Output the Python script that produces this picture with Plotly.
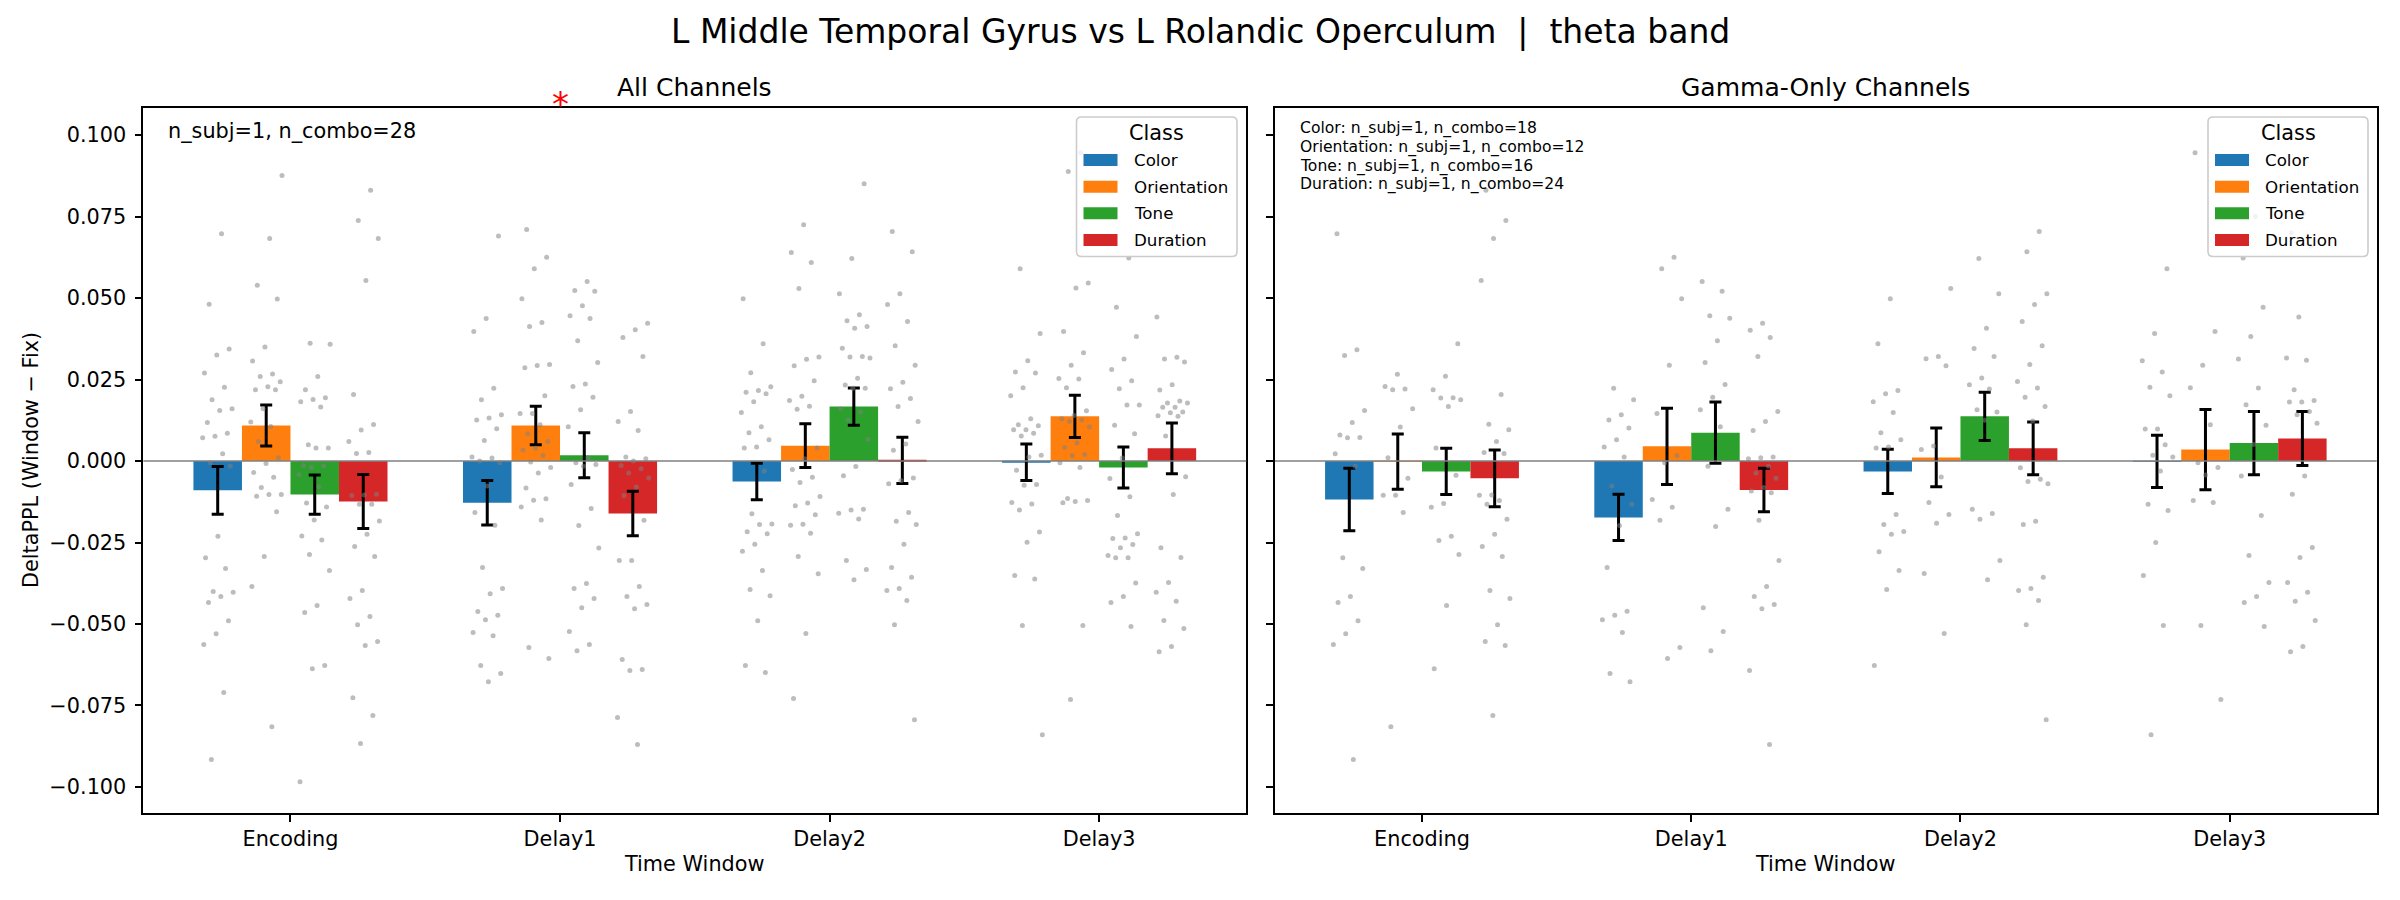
import plotly.graph_objects as go

# ---------------- data ----------------
windows = ["Encoding", "Delay1", "Delay2", "Delay3"]
classes = ["Color", "Orientation", "Tone", "Duration"]
ytick_vals = [-0.100, -0.075, -0.050, -0.025, 0.000, 0.025, 0.050, 0.075, 0.100]

n_subj = 1
n_combo_all = 28
n_combo_gamma = [18, 12, 16, 24]

# All channels: bar means and SEMs per class (Encoding, Delay1, Delay2, Delay3)
all_mean_color = [-0.0090, -0.0128, -0.0063, -0.0004]
all_mean_orient = [0.0109, 0.0109, 0.0047, 0.0137]
all_mean_tone = [-0.0103, 0.0018, 0.0167, -0.0020]
all_mean_dur = [-0.0124, -0.0161, 0.0002, 0.0039]
all_sem_color = [0.0073, 0.0068, 0.0056, 0.0056]
all_sem_orient = [0.0063, 0.0059, 0.0067, 0.0065]
all_sem_tone = [0.0060, 0.0069, 0.0057, 0.0063]
all_sem_dur = [0.0083, 0.0068, 0.0071, 0.0078]

# Gamma-only channels
gam_mean_color = [-0.0118, -0.0173, -0.0032, -0.0001]
gam_mean_orient = [-0.0002, 0.0045, 0.0011, 0.0035]
gam_mean_tone = [-0.0032, 0.0087, 0.0137, 0.0055]
gam_mean_dur = [-0.0053, -0.0089, 0.0039, 0.0069]
gam_sem_color = [0.0096, 0.0071, 0.0068, 0.0080]
gam_sem_orient = [0.0085, 0.0117, 0.0090, 0.0123]
gam_sem_tone = [0.0071, 0.0094, 0.0074, 0.0097]
gam_sem_dur = [0.0087, 0.0067, 0.0081, 0.0083]

# individual combos (grey dots), per window
pts_all_color = [
    [0.0697, 0.0481, 0.0344, 0.0325, 0.0270, 0.0226, 0.0188, 0.0160, 0.0155, 0.0118, 0.0085, 0.0076, 0.0071, 0.0022,
     -0.0005, -0.0015, -0.0231, -0.0297, -0.0330, -0.0400, -0.0403, -0.0416, -0.0434, -0.0490, -0.0530, -0.0563, -0.0710, -0.0916],
    [0.0690, 0.0437, 0.0397, 0.0223, 0.0188, 0.0142, 0.0132, 0.0126, 0.0099, 0.0063, 0.0012, 0.0009, 0.0000, -0.0005,
     -0.0077, -0.0158, -0.0197, -0.0327, -0.0391, -0.0407, -0.0462, -0.0473, -0.0487, -0.0526, -0.0536, -0.0627, -0.0652, -0.0677],
    [0.0498, 0.0360, 0.0271, 0.0228, 0.0216, 0.0211, 0.0206, 0.0182, 0.0149, 0.0105, 0.0087, 0.0065, 0.0043, 0.0040,
     -0.0031, -0.0162, -0.0193, -0.0195, -0.0217, -0.0223, -0.0255, -0.0277, -0.0336, -0.0394, -0.0413, -0.0490, -0.0627, -0.0649],
    [0.0590, 0.0391, 0.0308, 0.0273, 0.0270, 0.0225, 0.0200, 0.0130, 0.0111, 0.0108, 0.0096, 0.0096, 0.0085, 0.0077,
     0.0018, 0.0012, -0.0028, -0.0072, -0.0074, -0.0127, -0.0132, -0.0150, -0.0218, -0.0249, -0.0351, -0.0362, -0.0505, -0.0840],
]
pts_all_orient = [
    [0.0876, 0.0683, 0.0539, 0.0497, 0.0350, 0.0307, 0.0267, 0.0259, 0.0243, 0.0228, 0.0219, 0.0219, 0.0160, 0.0120,
     0.0106, 0.0060, 0.0010, -0.0008, -0.0035, -0.0050, -0.0081, -0.0103, -0.0103, -0.0108, -0.0156, -0.0293, -0.0385, -0.0815],
    [0.0710, 0.0625, 0.0590, 0.0498, 0.0425, 0.0413, 0.0296, 0.0293, 0.0286, 0.0200, 0.0146, 0.0146, 0.0111, 0.0084,
     0.0060, 0.0039, 0.0034, 0.0017, -0.0003, -0.0020, -0.0037, -0.0083, -0.0116, -0.0120, -0.0141, -0.0181, -0.0572, -0.0606],
    [0.0725, 0.0640, 0.0609, 0.0529, 0.0319, 0.0312, 0.0292, 0.0246, 0.0199, 0.0186, 0.0168, 0.0159, 0.0040, 0.0007,
     -0.0026, -0.0050, -0.0066, -0.0109, -0.0129, -0.0137, -0.0165, -0.0194, -0.0197, -0.0222, -0.0293, -0.0346, -0.0529, -0.0729],
    [0.0946, 0.0888, 0.0546, 0.0531, 0.0397, 0.0332, 0.0294, 0.0253, 0.0252, 0.0225, 0.0154, 0.0140, 0.0130, 0.0126,
     0.0121, 0.0104, 0.0055, 0.0042, 0.0020, 0.0017, -0.0005, -0.0020, -0.0115, -0.0121, -0.0124, -0.0128, -0.0505, -0.0732],
]
pts_all_tone = [
    [0.0361, 0.0358, 0.0259, 0.0219, 0.0194, 0.0189, 0.0182, 0.0166, 0.0050, 0.0040, 0.0040, -0.0014, -0.0015, -0.0020,
     -0.0042, -0.0079, -0.0129, -0.0141, -0.0181, -0.0230, -0.0242, -0.0287, -0.0336, -0.0443, -0.0465, -0.0627, -0.0637, -0.0984],
    [0.0551, 0.0523, 0.0521, 0.0476, 0.0446, 0.0437, 0.0369, 0.0302, 0.0236, 0.0229, 0.0196, 0.0157, 0.0105, 0.0009,
     -0.0005, -0.0011, -0.0016, -0.0072, -0.0146, -0.0198, -0.0267, -0.0376, -0.0391, -0.0422, -0.0450, -0.0523, -0.0563, -0.0582],
    [0.0851, 0.0621, 0.0513, 0.0449, 0.0430, 0.0413, 0.0407, 0.0346, 0.0321, 0.0319, 0.0316, 0.0254, 0.0233, 0.0223,
     0.0223, 0.0160, 0.0150, 0.0125, 0.0067, -0.0017, -0.0045, -0.0148, -0.0150, -0.0160, -0.0178, -0.0305, -0.0333, -0.0364],
    [0.0750, 0.0623, 0.0472, 0.0382, 0.0313, 0.0281, 0.0246, 0.0222, 0.0172, 0.0172, 0.0110, 0.0084, 0.0009, -0.0054,
     -0.0110, -0.0167, -0.0223, -0.0236, -0.0238, -0.0256, -0.0266, -0.0290, -0.0297, -0.0297, -0.0374, -0.0416, -0.0434, -0.0508],
]
pts_all_dur = [
    [0.0831, 0.0738, 0.0683, 0.0554, 0.0204, 0.0112, 0.0095, 0.0060, 0.0026, 0.0023, -0.0102, -0.0104, -0.0106, -0.0133,
     -0.0133, -0.0184, -0.0225, -0.0262, -0.0293, -0.0397, -0.0422, -0.0477, -0.0502, -0.0554, -0.0566, -0.0726, -0.0781, -0.0867],
    [0.0423, 0.0403, 0.0379, 0.0321, 0.0152, 0.0121, 0.0094, 0.0012, 0.0007, 0.0000, -0.0014, -0.0024, -0.0037, -0.0052,
     -0.0080, -0.0106, -0.0182, -0.0305, -0.0305, -0.0385, -0.0416, -0.0440, -0.0453, -0.0609, -0.0640, -0.0643, -0.0787, -0.0870],
    [0.0704, 0.0642, 0.0513, 0.0480, 0.0428, 0.0354, 0.0294, 0.0242, 0.0222, 0.0192, 0.0167, 0.0121, 0.0052, 0.0033,
     -0.0052, -0.0060, -0.0070, -0.0158, -0.0185, -0.0195, -0.0255, -0.0327, -0.0357, -0.0391, -0.0397, -0.0428, -0.0502, -0.0794],
    [0.0850, 0.0442, 0.0318, 0.0313, 0.0304, 0.0234, 0.0218, 0.0184, 0.0178, 0.0178, 0.0165, 0.0165, 0.0150, 0.0148,
     0.0139, 0.0137, 0.0077, -0.0048, -0.0103, -0.0266, -0.0296, -0.0373, -0.0403, -0.0430, -0.0489, -0.0514, -0.0569, -0.0585],
]

pts_gam_color = [
    [0.0697, 0.0341, 0.0324, 0.0155, 0.0118, 0.0080, 0.0072, 0.0071, 0.0022, -0.0016, -0.0297, -0.0330, -0.0416, -0.0434,
     -0.0490, -0.0530, -0.0563, -0.0916],
    [0.0223, 0.0188, 0.0142, 0.0126, 0.0101, 0.0065, 0.0043, 0.0012, -0.0077, -0.0133, -0.0198, -0.0327, -0.0461, -0.0473,
     -0.0487, -0.0526, -0.0652, -0.0677],
    [0.0498, 0.0360, 0.0216, 0.0206, 0.0182, 0.0149, 0.0087, 0.0065, 0.0043, 0.0040, -0.0164, -0.0195, -0.0216, -0.0225,
     -0.0278, -0.0336, -0.0394, -0.0627],
    [0.0590, 0.0391, 0.0308, 0.0273, 0.0226, 0.0200, 0.0098, 0.0098, 0.0050, 0.0018, 0.0012, -0.0031, -0.0133, -0.0152,
     -0.0250, -0.0351, -0.0505, -0.0840],
]
pts_gam_orient = [
    [0.0266, 0.0229, 0.0221, 0.0219, 0.0160, 0.0104, 0.0010, -0.0053, -0.0105, -0.0105, -0.0158, -0.0815],
    [0.0625, 0.0590, 0.0498, 0.0294, 0.0146, 0.0017, -0.0005, -0.0118, -0.0142, -0.0182, -0.0572, -0.0606],
    [0.0529, 0.0321, 0.0314, 0.0292, 0.0046, 0.0035, -0.0049, -0.0127, -0.0164, -0.0191, -0.0345, -0.0529],
    [0.0946, 0.0397, 0.0294, 0.0225, 0.0111, -0.0005, -0.0020, -0.0043, -0.0121, -0.0127, -0.0505, -0.0732],
]
pts_gam_tone = [
    [0.0360, 0.0260, 0.0219, 0.0194, 0.0193, 0.0188, 0.0167, 0.0040, -0.0044, -0.0130, -0.0142, -0.0231, -0.0244, -0.0287,
     -0.0443, -0.0637],
    [0.0551, 0.0521, 0.0446, 0.0438, 0.0369, 0.0302, 0.0235, 0.0196, 0.0157, 0.0105, -0.0016, -0.0148, -0.0201, -0.0450,
     -0.0523, -0.0582],
    [0.0621, 0.0513, 0.0407, 0.0345, 0.0321, 0.0255, 0.0234, 0.0221, 0.0157, 0.0150, 0.0125, -0.0148, -0.0161, -0.0179,
     -0.0305, -0.0364],
    [0.0750, 0.0623, 0.0472, 0.0382, 0.0313, 0.0224, 0.0173, 0.0110, 0.0051, -0.0046, -0.0167, -0.0290, -0.0373, -0.0416,
     -0.0434, -0.0508],
]
pts_gam_dur = [
    [0.0831, 0.0738, 0.0683, 0.0554, 0.0204, 0.0113, 0.0096, 0.0060, 0.0026, 0.0023, -0.0104, -0.0105, -0.0121, -0.0133,
     -0.0179, -0.0225, -0.0262, -0.0293, -0.0397, -0.0422, -0.0502, -0.0554, -0.0566, -0.0781],
    [0.0423, 0.0401, 0.0379, 0.0321, 0.0152, 0.0121, 0.0094, 0.0012, 0.0010, 0.0007, -0.0016, -0.0037, -0.0053, -0.0081,
     -0.0092, -0.0097, -0.0182, -0.0305, -0.0385, -0.0416, -0.0440, -0.0453, -0.0643, -0.0870],
    [0.0704, 0.0642, 0.0513, 0.0480, 0.0428, 0.0354, 0.0296, 0.0244, 0.0224, 0.0196, 0.0167, 0.0123, -0.0021, -0.0056,
     -0.0063, -0.0070, -0.0185, -0.0195, -0.0357, -0.0391, -0.0397, -0.0428, -0.0502, -0.0794],
    [0.0850, 0.0760, 0.0700, 0.0660, 0.0442, 0.0316, 0.0309, 0.0219, 0.0186, 0.0181, 0.0181, 0.0152, 0.0142, 0.0116,
     -0.0046, -0.0102, -0.0265, -0.0296, -0.0373, -0.0403, -0.0430, -0.0489, -0.0569, -0.0585],
]

sig_window = "Delay1"   # red star marker (All Channels)

# ---------------- style ----------------
FONT = "DejaVu Sans"
colors = ["#1f77b4", "#ff7f0e", "#2ca02c", "#d62728"]
bar_w = 0.18
offsets = [-0.27, -0.09, 0.09, 0.27]
W, H = 2400, 900

panels = [
    ("x", "y", [all_mean_color, all_mean_orient, all_mean_tone, all_mean_dur],
     [all_sem_color, all_sem_orient, all_sem_tone, all_sem_dur],
     [pts_all_color, pts_all_orient, pts_all_tone, pts_all_dur]),
    ("x2", "y2", [gam_mean_color, gam_mean_orient, gam_mean_tone, gam_mean_dur],
     [gam_sem_color, gam_sem_orient, gam_sem_tone, gam_sem_dur],
     [pts_gam_color, pts_gam_orient, pts_gam_tone, pts_gam_dur]),
]

fig = go.Figure()
xpos = list(range(len(windows)))

for pi, (xa, ya, means, sems, pts) in enumerate(panels):
    for c in range(len(classes)):
        fig.add_trace(go.Bar(
            x=xpos, y=means[c], width=bar_w, offset=offsets[c] - bar_w / 2,
            marker=dict(color=colors[c], line=dict(width=0)),
            error_y=dict(type="data", array=sems[c], color="black", thickness=3, width=6),
            xaxis=xa, yaxis=ya, showlegend=False, name=classes[c],
        ))
    for c in range(len(classes)):
        xs, ys = [], []
        for w in range(len(windows)):
            vals = pts[c][w]
            for k, v in enumerate(vals):
                frac = ((k + 1) * 0.6180339 + 0.37 * c + 0.23 * w + 0.5 * pi) % 1.0
                xs.append(w + offsets[c] + 0.06 * (2 * frac - 1))
                ys.append(v)
        fig.add_trace(go.Scatter(
            x=xs, y=ys, mode="markers",
            marker=dict(size=5, color="rgba(128,128,128,0.52)", line=dict(width=0)),
            xaxis=xa, yaxis=ya, showlegend=False, hoverinfo="skip", name=classes[c] + " combos",
        ))

ytext = [("\u2212" if v < 0 else "") + f"{abs(v):.3f}" for v in ytick_vals]

xd1 = [143.3 / W, 1246.3 / W]
xd2 = [1275.0 / W, 2376.7 / W]
yd = [1 - 812.7 / H, 1 - 107.7 / H]
xr = [-0.546, 3.546]
yr = [-0.1079, 0.1084]

axis_common = dict(showline=True, mirror=True, linecolor="black", linewidth=1.6,
                   ticks="outside", ticklen=7, tickwidth=1.6, tickcolor="black",
                   showgrid=False, zeroline=False,
                   tickfont=dict(family=FONT, size=20.8, color="black"))

fig.update_layout(
    width=W, height=H,
    margin=dict(l=0, r=0, t=0, b=0),
    paper_bgcolor="white", plot_bgcolor="white",
    barmode="overlay", showlegend=False,
    font=dict(family=FONT, color="black"),
    xaxis=dict(domain=xd1, range=xr, tickvals=xpos, ticktext=windows, anchor="y", **axis_common),
    xaxis2=dict(domain=xd2, range=xr, tickvals=xpos, ticktext=windows, anchor="y2", **axis_common),
    yaxis=dict(domain=yd, range=yr, tickvals=ytick_vals, ticktext=ytext, anchor="x",
               ticklabelstandoff=4, **axis_common),
    yaxis2=dict(domain=yd, range=yr, tickvals=ytick_vals, ticktext=ytext, anchor="x2",
                showticklabels=False, **axis_common),
)

# zero reference lines
for xa, ya in [("x", "y"), ("x2", "y2")]:
    fig.add_shape(type="line", xref=xa + " domain", yref=ya, x0=0, x1=1, y0=0, y1=0,
                  line=dict(color="#808080", width=1.7), layer="above")

ann = []


def px_x(v):
    return v / W


def px_y(v):
    return 1 - v / H


# class legends (one per panel), matplotlib-style boxes
legend_boxes = [(1076.5, 1237.0), (2208.0, 2368.0)]
box_top, box_bot = 117.0, 256.5
row_y = [160.0, 186.7, 213.3, 240.0]
r = 5.0
for (bl, br) in legend_boxes:
    x0, x1 = px_x(bl), px_x(br)
    y0, y1 = px_y(box_bot), px_y(box_top)
    rx, ry = r / W, r / H
    path = (f"M{x0 + rx},{y1} L{x1 - rx},{y1} Q{x1},{y1} {x1},{y1 - ry} "
            f"L{x1},{y0 + ry} Q{x1},{y0} {x1 - rx},{y0} L{x0 + rx},{y0} "
            f"Q{x0},{y0} {x0},{y0 + ry} L{x0},{y1 - ry} Q{x0},{y1} {x0 + rx},{y1} Z")
    fig.add_shape(type="path", path=path, xref="paper", yref="paper",
                  fillcolor="rgba(255,255,255,0.8)", line=dict(color="#cccccc", width=1.6), layer="above")
    ann.append(dict(text="Class", x=px_x((bl + br) / 2), y=px_y(132.5), xref="paper", yref="paper",
                    xanchor="center", yanchor="middle", showarrow=False,
                    font=dict(family=FONT, size=20.8, color="black")))
    for c in range(len(classes)):
        fig.add_shape(type="rect", xref="paper", yref="paper",
                      x0=px_x(bl + 7), x1=px_x(bl + 41), y0=px_y(row_y[c] + 6), y1=px_y(row_y[c] - 6),
                      fillcolor=colors[c], line=dict(width=0), layer="above")
        ann.append(dict(text=classes[c], x=px_x(bl + 55), y=px_y(row_y[c]), xref="paper", yref="paper",
                        xanchor="left", yanchor="middle", showarrow=False,
                        font=dict(family=FONT, size=16.7, color="black")))

ann.append(dict(text="L Middle Temporal Gyrus vs L Rolandic Operculum  |  theta band",
                x=0.5, y=px_y(31), xref="paper", yref="paper", xanchor="center", yanchor="middle",
                showarrow=False, font=dict(family=FONT, size=33, color="black")))
ann.append(dict(text="All Channels", x=(xd1[0] + xd1[1]) / 2, y=px_y(87.5), xref="paper", yref="paper",
                xanchor="center", yanchor="middle", showarrow=False, font=dict(family=FONT, size=25, color="black")))
ann.append(dict(text="Gamma-Only Channels", x=(xd2[0] + xd2[1]) / 2, y=px_y(87.5), xref="paper", yref="paper",
                xanchor="center", yanchor="middle", showarrow=False, font=dict(family=FONT, size=25, color="black")))
for xd in (xd1, xd2):
    ann.append(dict(text="Time Window", x=(xd[0] + xd[1]) / 2, y=px_y(864), xref="paper", yref="paper",
                    xanchor="center", yanchor="middle", showarrow=False, font=dict(family=FONT, size=20.8, color="black")))
ann.append(dict(text="DeltaPPL (Window \u2212 Fix)", x=px_x(31), y=px_y(460), xref="paper", yref="paper",
                xanchor="center", yanchor="middle", textangle=-90, showarrow=False,
                font=dict(family=FONT, size=20.8, color="black")))
ann.append(dict(text=f"n_subj={n_subj}, n_combo={n_combo_all}", x=px_x(166), y=px_y(131), xref="paper", yref="paper",
                xanchor="left", yanchor="middle", showarrow=False, font=dict(family=FONT, size=20.8, color="black")))
line_y = [128.7, 147.7, 166.7, 184.7]
for c in range(len(classes)):
    ann.append(dict(text=f"{classes[c]}: n_subj={n_subj}, n_combo={n_combo_gamma[c]}", x=px_x(1298), y=px_y(line_y[c]),
                    xref="paper", yref="paper", xanchor="left", yanchor="middle", showarrow=False,
                    font=dict(family=FONT, size=15.6, color="black")))
ann.append(dict(text="*", x=windows.index(sig_window), y=px_y(104), xref="x", yref="paper",
                xanchor="center", yanchor="middle", showarrow=False, font=dict(family=FONT, size=34, color="red")))
fig.update_layout(annotations=ann)

fig.write_html("out.html", config={"displayModeBar": False},
               post_script="document.body.style.margin='0px';")
